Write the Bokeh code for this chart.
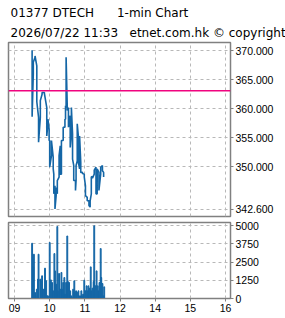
from bokeh.plotting import figure
from bokeh.models import FixedTicker, Span, Title, Range1d, PrintfTickFormatter
from bokeh.layouts import column
from bokeh.embed import file_html
from bokeh.resources import INLINE

# ---- data (minutes since 09:00, lunch break removed) ----
price_times = [30, 32, 35, 38, 41, 44, 47, 51, 55, 57, 59, 60, 63, 66, 67, 69, 71, 73,
               76, 78, 80, 83, 86, 87, 88, 90, 92, 95, 97, 99, 101, 104, 105, 107, 109,
               111, 113, 116, 119, 121, 124, 127, 129, 131, 133, 136, 139, 141, 144,
               147, 150, 152]
price_high = [370.1, 368.0, 369.1, 367.4, 358.5, 361.4, 362.8, 362.8, 360.2, 358.2, 356.5,
              354.5, 354.5, 351.6, 348.7, 346.7, 346.4, 347.6, 351.9, 353.6, 354.5, 356.8,
              358.2, 360.5, 368.9, 360.2, 360.2, 358.8, 360.2, 355.6, 350.2, 347.6, 350.2,
              357.4, 355.1, 355.3, 350.7, 349.0, 348.7, 346.7, 344.7, 344.1, 344.1, 348.2,
              348.3, 349.4, 349.9, 349.6, 349.0, 349.9, 350.2, 349.0]
price_low = [358.6, 366.0, 368.9, 361.2, 354.2, 358.5, 362.5, 362.6, 355.3, 357.4, 354.5,
             349.9, 351.9, 349.6, 345.3, 342.7, 345.0, 345.3, 348.2, 348.7, 348.7, 354.5,
             356.8, 358.2, 360.2, 359.7, 356.8, 353.3, 355.6, 351.3, 347.6, 345.9, 347.6,
             351.0, 350.7, 349.6, 349.0, 348.8, 348.2, 345.0, 344.1, 343.3, 343.0, 345.3,
             348.0, 348.7, 345.3, 345.3, 345.9, 348.7, 349.3, 348.2]
prev_close = 363.1

vol_times = [30, 32, 33, 35, 36, 38, 40, 41, 44, 45, 47, 49, 51, 52, 54, 56, 57, 60, 62,
             64, 66, 68, 69, 71, 73, 74, 76, 78, 80, 81, 83, 85, 86, 88, 90, 91, 93, 95,
             97, 98, 100, 102, 103, 105, 107, 109, 110, 112, 114, 115, 117, 119, 121,
             123, 125, 126, 128, 130, 131, 133, 135, 136, 138, 140, 142, 143, 145, 147,
             148, 150, 152, 153]
volumes = [3800, 2175, 3045, 410, 180, 640, 1330, 3045, 1330, 1215, 1560, 640, 640, 2085,
           1215, 180, 180, 3850, 1280, 1100, 525, 3090, 1900, 985, 4950, 525, 1720, 640,
           1790, 640, 1100, 1440, 300, 1100, 4300, 1170, 1100, 525, 180, 70, 640, 1215,
           410, 525, 410, 525, 180, 180, 525, 180, 300, 1260, 525, 870, 525, 870, 710,
           2175, 525, 710, 1170, 5000, 870, 1900, 870, 525, 1100, 3435, 1440, 1030, 180,
           800]

x_ticks = [0, 60, 120, 180, 240, 300, 360]
x_labels = ["09", "10", "11", "12", "14", "15", "16"]
price_ticks = [342.6, 350, 355, 360, 365, 370]
vol_ticks = [0, 1250, 2500, 3750, 5000]

NB = "\u00a0"
title_line1 = "01377 DTECH" + NB * 6 + "1-min Chart"
title_line2 = "2026/07/22 11:33" + NB * 3 + "etnet.com.hk \u00a9 copyright"

# ---- styles ----
BLUE = "#1466a6"
GRID = "#b8b8b8"
FRAME = "#808080"
FONT = "DejaVu Sans"
TICK_FONT = "Liberation Sans"

# build price path: vertical high/low strokes joined in time order
px, py = [], []
last = None
for t, h, l in zip(price_times, price_high, price_low):
    a, b = (h, l)
    if last is not None and abs(l - last) < abs(h - last):
        a, b = (l, h)
    px += [t, t]
    py += [a, b]
    last = b

xr = Range1d(-10.3, 368.5)

p = figure(width=285, height=219, x_range=xr, y_range=Range1d(341.39, 371.43),
           output_backend="svg", toolbar_location=None, x_axis_location=None,
           y_axis_location="right", min_border_left=8, min_border_right=55,
           min_border_top=42, min_border_bottom=3)
p.outline_line_color = FRAME
p.outline_line_width = 1.5
p.background_fill_color = "white"
p.border_fill_color = "white"

ya = p.yaxis[0]
ya.ticker = FixedTicker(ticks=price_ticks)
ya.formatter = PrintfTickFormatter(format="%.3f")
ya.major_label_text_font = TICK_FONT
ya.major_label_text_font_size = "10.5px"
ya.major_label_text_color = "black"
ya.major_tick_in = 0
ya.major_tick_out = 3
ya.minor_tick_line_color = None
ya.major_tick_line_color = FRAME
ya.axis_line_color = FRAME
ya.major_label_standoff = 2

p.ygrid.grid_line_color = GRID
p.ygrid.grid_line_dash = "3 3"
p.xgrid[0].ticker = FixedTicker(ticks=x_ticks)
p.xgrid.grid_line_color = GRID
p.xgrid.grid_line_dash = "3 3"

p.line(px, py, line_color=BLUE, line_width=1.6)
p.add_layout(Span(location=prev_close, dimension="width", line_color="#f0047f",
                  line_width=1.3))

t2 = Title(text=title_line2, align="left", text_font=FONT, text_font_size="12px",
           text_font_style="normal", text_color="black", standoff=6, offset=2)
t1 = Title(text=title_line1, align="left", text_font=FONT, text_font_size="12px",
           text_font_style="normal", text_color="black", standoff=2, offset=2)
p.add_layout(t2, "above")
p.add_layout(t1, "above")

v = figure(width=285, height=99, x_range=xr, y_range=Range1d(0, 5228),
           output_backend="svg", toolbar_location=None, y_axis_location="right",
           min_border_left=8, min_border_right=55, min_border_top=3,
           min_border_bottom=20)
v.outline_line_color = FRAME
v.outline_line_width = 1.5
v.vbar(x=vol_times, top=volumes, width=1.5, color=BLUE)

va = v.yaxis[0]
va.ticker = FixedTicker(ticks=vol_ticks)
va.major_label_text_font = TICK_FONT
va.major_label_text_font_size = "10.5px"
va.major_label_text_color = "black"
va.major_tick_in = 0
va.major_tick_out = 3
va.minor_tick_line_color = None
va.major_tick_line_color = FRAME
va.axis_line_color = FRAME
va.major_label_standoff = 2

xa = v.xaxis[0]
xa.ticker = FixedTicker(ticks=x_ticks)
xa.major_label_overrides = {t: s for t, s in zip(x_ticks, x_labels)}
xa.major_label_text_font = TICK_FONT
xa.major_label_text_font_size = "10.5px"
xa.major_label_text_color = "black"
xa.major_tick_in = 0
xa.major_tick_out = 3
xa.minor_tick_line_color = None
xa.major_tick_line_color = FRAME
xa.axis_line_color = FRAME
xa.major_label_standoff = 2

for g in (v.xgrid, v.ygrid):
    g.grid_line_color = GRID
    g.grid_line_dash = "3 3"

layout = column(p, v, spacing=0)
open("out.html", "w").write(file_html(layout, INLINE))
